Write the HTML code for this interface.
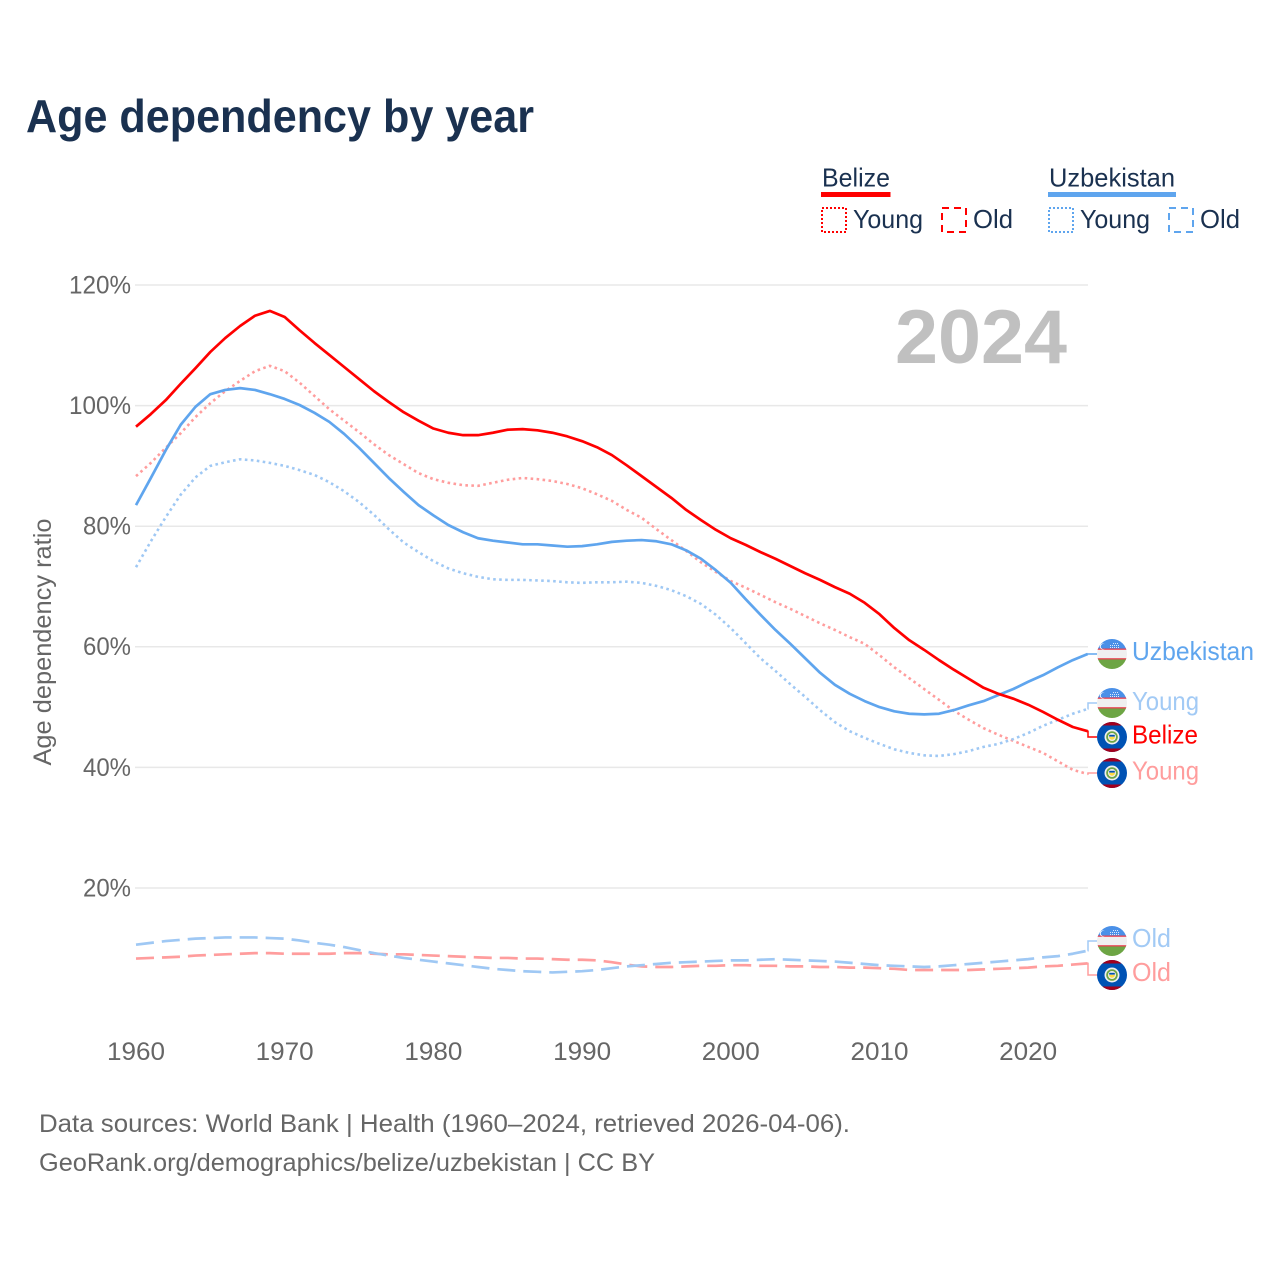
<!DOCTYPE html>
<html lang="en">
<head>
<meta charset="utf-8">
<title>Age dependency by year</title>
<style>
html,body{margin:0;padding:0;background:#fff;}
svg{display:block;font-family:"Liberation Sans",sans-serif;}
</style>
</head>
<body>
<svg id="chart" xmlns="http://www.w3.org/2000/svg" width="1280" height="1280" viewBox="0 0 1280 1280">
<defs>
<clipPath id="flag-clip"><circle cx="0" cy="0" r="15"/></clipPath>
<g id="flag-uz">
<g clip-path="url(#flag-clip)">
<rect x="-15" y="-15" width="30" height="10.5" fill="#4a90e8"/>
<rect x="-15" y="-4.5" width="30" height="9" fill="#f0f0f0"/>
<rect x="-15" y="-5.5" width="30" height="1.3" fill="#e8404f"/>
<rect x="-15" y="4.2" width="30" height="1.3" fill="#e8404f"/>
<rect x="-15" y="5.5" width="30" height="9.5" fill="#6da544"/>
<path d="M-7-9.5a3 3 0 1 0 0 4a2.6 2.6 0 1 1 0-4z" fill="#fff"/>
<path d="M-2-6.5h9M-2-8.5h9M1-10.5h6" stroke="#dbe9fb" stroke-width="1" stroke-dasharray="1 1"/>
</g>
</g>
<g id="flag-bz">
<g clip-path="url(#flag-clip)">
<rect x="-15" y="-15" width="30" height="30" fill="#0052b4"/>
<rect x="-15" y="-15" width="30" height="3.5" fill="#a2001d"/>
<rect x="-15" y="11.5" width="30" height="3.5" fill="#a2001d"/>
<circle r="7.500" fill="#f0f0f0"/>
<circle r="5.800" fill="#6da544"/>
<circle r="4" fill="#f0f0f0"/>
<path d="M-3-.3h6a3 3 0 0 1-6 0z" fill="#ffda44"/>
<rect x="-2.800" y="-2.200" width="5.600" height="1.800" fill="#0052b4"/>
</g>
</g>
</defs>

<text x="26" y="132" font-size="46" font-weight="700" fill="#1a3150" textLength="508" lengthAdjust="spacingAndGlyphs">Age dependency by year</text>

<g font-size="26" fill="#1a3150">
<g>
<text x="822" y="186.500" textLength="68" lengthAdjust="spacingAndGlyphs">Belize</text>
<rect x="821" y="192" width="69.500" height="5" fill="#ff0000"/>
<rect x="822" y="208" width="24" height="24" fill="none" stroke="#ff0000" stroke-width="2" stroke-dasharray="2 2"/>
<text x="853" y="228" textLength="70" lengthAdjust="spacingAndGlyphs">Young</text>
<rect x="942" y="208" width="24" height="24" fill="none" stroke="#ff0000" stroke-width="2" stroke-dasharray="7 5"/>
<text x="973" y="228" textLength="40" lengthAdjust="spacingAndGlyphs">Old</text>
</g>
<g>
<text x="1049" y="186.500" textLength="126" lengthAdjust="spacingAndGlyphs">Uzbekistan</text>
<rect x="1048" y="192" width="128" height="5" fill="#5fa5ee"/>
<rect x="1049" y="208" width="24" height="24" fill="none" stroke="#5fa5ee" stroke-width="2" stroke-dasharray="2 2"/>
<text x="1080" y="228" textLength="70" lengthAdjust="spacingAndGlyphs">Young</text>
<rect x="1169" y="208" width="24" height="24" fill="none" stroke="#5fa5ee" stroke-width="2" stroke-dasharray="7 5"/>
<text x="1200" y="228" textLength="40" lengthAdjust="spacingAndGlyphs">Old</text>
</g>
</g>

<text transform="translate(51,642) rotate(-90)" text-anchor="middle" font-size="25" fill="#666666" textLength="247" lengthAdjust="spacingAndGlyphs">Age dependency ratio</text>
<g id="grid"></g>
<g id="y-ticks"></g>
<g id="x-ticks"></g>

<text x="895" y="363" font-size="76" font-weight="700" fill="#c0c0c0" textLength="172" lengthAdjust="spacingAndGlyphs">2024</text>

<g id="series"></g>
<g id="connectors"></g>

<g font-size="26">
<use href="#flag-uz" x="1112" y="654"/>
<text x="1132" y="660" fill="#5fa5ee" textLength="122" lengthAdjust="spacingAndGlyphs">Uzbekistan</text>
<use href="#flag-uz" x="1112" y="703"/>
<text x="1132" y="710" fill="#a2caf5" textLength="67" lengthAdjust="spacingAndGlyphs">Young</text>
<use href="#flag-bz" x="1112" y="737"/>
<text x="1132" y="743.500" fill="#ff0000" textLength="66" lengthAdjust="spacingAndGlyphs">Belize</text>
<use href="#flag-bz" x="1112" y="773"/>
<text x="1132" y="779.500" fill="#ff9d9d" textLength="67" lengthAdjust="spacingAndGlyphs">Young</text>
<use href="#flag-uz" x="1112" y="941"/>
<text x="1132" y="947" fill="#a2caf5" textLength="39" lengthAdjust="spacingAndGlyphs">Old</text>
<use href="#flag-bz" x="1112" y="975"/>
<text x="1132" y="981" fill="#ff9d9d" textLength="39" lengthAdjust="spacingAndGlyphs">Old</text>
</g>

<g font-size="25" fill="#666666">
<text x="39" y="1132" textLength="811" lengthAdjust="spacingAndGlyphs">Data sources: World Bank | Health (1960–2024, retrieved 2026-04-06).</text>
<text x="39" y="1171" textLength="616" lengthAdjust="spacingAndGlyphs">GeoRank.org/demographics/belize/uzbekistan | CC BY</text>
</g>
</svg>

<script>
const startYear = 1960;
const yTickValues = [20, 40, 60, 80, 100, 120];
const xTickValues = [1960, 1970, 1980, 1990, 2000, 2010, 2020];

const belizeTotal = [
96.5,98.6,100.9,103.6,106.2,108.9,111.2,113.2,114.9,115.7,
114.7,112.5,110.4,108.4,106.4,104.4,102.4,100.6,98.9,97.5,
96.2,95.5,95.1,95.1,95.5,96.0,96.1,95.9,95.5,94.9,
94.1,93.1,91.8,90.1,88.3,86.5,84.7,82.7,81.0,79.4,
78.0,76.9,75.7,74.6,73.4,72.2,71.1,69.9,68.8,67.3,
65.4,63.1,61.1,59.5,57.8,56.2,54.7,53.2,52.2,51.4,
50.4,49.2,47.9,46.7,46.0];
const belizeYoung = [
88.3,90.5,93.0,95.4,98.1,100.4,102.4,104.1,105.7,106.6,
105.7,103.8,101.6,99.4,97.5,95.6,93.6,91.8,90.3,88.8,
87.8,87.2,86.8,86.7,87.2,87.7,88.0,87.8,87.5,87.0,
86.3,85.3,84.2,82.7,81.4,79.5,77.7,75.9,74.0,72.4,
70.9,69.8,68.6,67.4,66.3,65.1,63.9,62.8,61.6,60.5,
58.6,56.6,54.8,53.0,51.2,49.4,47.9,46.5,45.4,44.4,
43.4,42.4,41.0,39.6,38.9];
const belizeOld = [
8.3,8.4,8.5,8.6,8.8,8.9,9.0,9.1,9.2,9.2,
9.1,9.1,9.1,9.1,9.2,9.2,9.1,9.0,9.0,8.9,
8.8,8.7,8.6,8.5,8.4,8.4,8.3,8.3,8.2,8.1,
8.1,8.0,7.7,7.3,7.0,6.9,6.9,7.0,7.1,7.1,
7.2,7.2,7.1,7.1,7.0,7.0,6.9,6.9,6.8,6.8,
6.7,6.6,6.4,6.4,6.4,6.4,6.4,6.5,6.6,6.7,
6.8,7.0,7.1,7.3,7.5];
const uzbekistanTotal = [
83.5,88.0,92.6,96.8,99.8,101.9,102.6,102.9,102.6,101.9,
101.1,100.1,98.8,97.3,95.3,93.0,90.5,88.0,85.7,83.5,
81.8,80.2,79.0,78.0,77.6,77.3,77.0,77.0,76.8,76.6,
76.7,77.0,77.4,77.6,77.7,77.5,77.0,76.0,74.6,72.7,
70.6,67.9,65.3,62.8,60.5,58.1,55.7,53.7,52.2,51.0,
50.0,49.3,48.9,48.8,48.9,49.5,50.3,51.0,52.0,53.0,
54.2,55.3,56.6,57.8,58.8];
const uzbekistanYoung = [
73.2,77.5,81.5,85.2,88.1,90.0,90.6,91.1,90.9,90.5,
90.0,89.3,88.5,87.3,85.8,84.0,81.9,79.5,77.3,75.7,
74.2,73.0,72.2,71.6,71.2,71.1,71.1,71.0,70.9,70.7,
70.6,70.7,70.7,70.8,70.6,70.1,69.4,68.4,67.1,65.3,
63.1,60.6,58.1,56.0,53.8,51.7,49.5,47.5,46.0,44.9,
43.9,43.0,42.4,42.0,41.9,42.2,42.7,43.4,43.9,44.7,
45.7,46.9,47.9,48.9,49.7];
const uzbekistanOld = [
10.6,10.9,11.2,11.4,11.6,11.7,11.8,11.8,11.8,11.7,
11.6,11.3,10.9,10.6,10.2,9.7,9.2,8.8,8.4,8.1,
7.8,7.5,7.2,6.9,6.6,6.4,6.2,6.1,6.0,6.1,
6.2,6.4,6.7,7.0,7.2,7.4,7.6,7.7,7.8,7.9,
8.0,8.0,8.1,8.2,8.1,8.0,7.9,7.8,7.6,7.4,
7.2,7.1,7.0,6.9,7.0,7.2,7.4,7.6,7.8,8.0,
8.2,8.5,8.7,9.1,9.6];

const NS = 'http://www.w3.org/2000/svg';
const xScale = function (year) { return 136 + (year - 1960) * 14.87; };
const yScale = function (v) { return 1008.6 - v * 6.03; };

function linePath(values) {
  return values.map(function (v, i) {
    return (i ? 'L' : 'M') + xScale(startYear + i).toFixed(2) + ' ' + yScale(v).toFixed(2);
  }).join('');
}
function make(tag, parent, attrs) {
  const el = document.createElementNS(NS, tag);
  Object.keys(attrs).forEach(function (k) { el.setAttribute(k, attrs[k]); });
  parent.appendChild(el);
  return el;
}

const gridGroup = document.getElementById('grid');
const yTickGroup = document.getElementById('y-ticks');
yTickValues.forEach(function (v) {
  const gl = make('line', gridGroup, { x1: 135, x2: 1088, y1: yScale(v), y2: yScale(v), stroke: '#e8e8e8', 'stroke-width': 1.5 });
  
  
  const t = make('text', yTickGroup, { x: 131, y: yScale(v) + 8.4, 'text-anchor': 'end', 'font-size': 25, fill: '#666666', textLength: v >= 100 ? 62 : 48, lengthAdjust: 'spacingAndGlyphs' });
  
  
  t.textContent = v + '%';
});

const xTickGroup = document.getElementById('x-ticks');
xTickValues.forEach(function (year) {
  const t = make('text', xTickGroup, { x: xScale(year), y: 1060, 'text-anchor': 'middle', 'font-size': 25, fill: '#666666', textLength: 58, lengthAdjust: 'spacingAndGlyphs' });
  
  
  t.textContent = year;
});

const seriesGroup = document.getElementById('series');
const connectorGroup = document.getElementById('connectors');
const DOT = '2.6 3.4', DASH = '18 8';

function drawSeries(values, color, width, dash) {
  const attrs = { d: linePath(values), fill: 'none', stroke: color, 'stroke-width': width, 'stroke-linejoin': 'round' };
  if (dash) attrs['stroke-dasharray'] = dash;
  return make('path', seriesGroup, attrs);
}
function drawConnector(values, flagY, color, width) {
  const last = values[values.length - 1];
  const x = xScale(startYear + values.length - 1);
  return make('path', connectorGroup, {
    d: 'M' + x.toFixed(2) + ' ' + yScale(last).toFixed(2) + 'H1088V' + flagY + 'H1097',
    fill: 'none', stroke: color, 'stroke-width': width
  });
}

const lineOldBz = drawSeries(belizeOld, '#ff9d9d', 2.7, DASH);


const lineOldUz = drawSeries(uzbekistanOld, '#9fc8f4', 2.7, DASH);


const lineYoungBz = drawSeries(belizeYoung, '#ff9d9d', 2.6, DOT);


const lineYoungUz = drawSeries(uzbekistanYoung, '#9fc8f4', 2.6, DOT);


const lineTotalUz = drawSeries(uzbekistanTotal, '#5fa5ee', 2.7, null);


const lineTotalBz = drawSeries(belizeTotal, '#ff0000', 2.7, null);



const c1 = drawConnector(uzbekistanTotal, 654, '#5fa5ee', 1.5);


const c2 = drawConnector(uzbekistanYoung, 703, '#a2caf5', 1.5);


const c3 = drawConnector(belizeTotal, 737, '#ff0000', 1.5);


const c4 = drawConnector(belizeYoung, 773, '#ff9d9d', 1.5);


const c5 = drawConnector(uzbekistanOld, 941, '#a2caf5', 1.5);


const c6 = drawConnector(belizeOld, 975, '#ff9d9d', 1.5);


</script>
</body>
</html>
